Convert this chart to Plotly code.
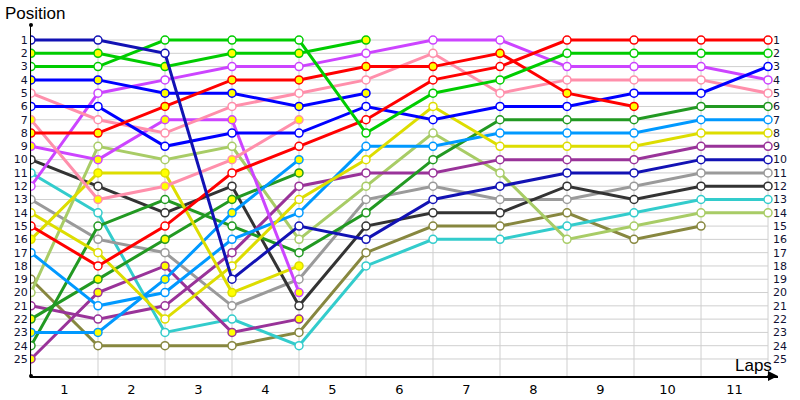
import plotly.graph_objects as go

# Columns: 0 = start grid, 1..11 = laps
columns = list(range(12))
lap_labels = [str(i) for i in range(1, 12)]
positions = list(range(1, 26))

# Positions per driver (shorter list = retired)
navy = [1, 1, 2, 19, 15, 16, 13, 12, 11, 11, 10, 10]
green_a = [2, 2, 3, 2, 2, 1]
green_b = [3, 3, 1, 1, 1, 8, 5, 4, 2, 2, 2, 2]
blue_a = [4, 4, 5, 5, 6, 5]
blue_b = [6, 6, 9, 8, 8, 6, 7, 6, 6, 5, 5, 3]
pink_a = [5, 7, 8, 6, 5, 4, 2, 5, 4, 4, 4, 5]
pink_b = [7, 13, 12, 10, 7]
red_a = [8, 8, 6, 4, 4, 3, 3, 2, 5, 6]
red_b = [15, 18, 15, 11, 9, 7, 4, 3, 1, 1, 1, 1]
magenta_a = [9, 10, 7, 7, 20]
magenta_b = [12, 5, 4, 3, 3, 2, 1, 1, 3, 3, 3, 4]
darkgray = [10, 12, 14, 12, 21, 15, 14, 14, 12, 13, 12, 12]
cyan = [11, 14, 23, 22, 24, 18, 16, 16, 15, 14, 13, 13]
gray = [13, 16, 17, 21, 19, 13, 12, 13, 13, 12, 11, 11]
yellow_a = [14, 17, 22, 18, 13, 10, 6, 9, 9, 9, 8, 8]
yellow_b = [16, 11, 11, 20, 18]
lightblue_a = [17, 21, 20, 16, 14, 9, 9, 8, 8, 8, 7, 7]
lightblue_b = [23, 23, 19, 14, 10]
olive = [19, 24, 24, 24, 23, 17, 15, 15, 14, 16, 15]
lightgreen = [20, 9, 10, 9, 16, 12, 8, 11, 16, 15, 14, 14]
purple_a = [21, 22, 21, 17, 12, 11, 11, 10, 10, 10, 9, 9]
purple_b = [25, 20, 18, 23, 22]
darkgreen_a = [22, 19, 16, 13, 11]
darkgreen_b = [24, 15, 13, 15, 17, 14, 10, 7, 7, 7, 6, 6]

# (data, line colour, marker fill)
drivers = [
    (olive, "#87873f", "white"),
    (cyan, "#33cccc", "white"),
    (gray, "#9a9a9a", "white"),
    (darkgray, "#333333", "white"),
    (lightgreen, "#a8cc66", "white"),
    (purple_b, "#993399", "#ffff00"),
    (purple_a, "#993399", "white"),
    (darkgreen_a, "#229922", "#ffff00"),
    (darkgreen_b, "#229922", "white"),
    (lightblue_a, "#0099ff", "white"),
    (lightblue_b, "#0099ff", "#ffff00"),
    (yellow_a, "#dddd00", "white"),
    (yellow_b, "#dddd00", "#ffff00"),
    (magenta_a, "#cc44ff", "#ffff00"),
    (magenta_b, "#cc44ff", "white"),
    (pink_a, "#ff8fab", "white"),
    (pink_b, "#ff8fab", "#ffff00"),
    (blue_b, "#0000ff", "white"),
    (blue_a, "#0000ff", "#ffff00"),
    (red_b, "#ff0000", "white"),
    (red_a, "#ff0000", "#ffff00"),
    (green_b, "#00cc00", "white"),
    (green_a, "#00cc00", "#ffff00"),
    (navy, "#1212b4", "white"),
]

fig = go.Figure()
for data, col, fill in drivers:
    fig.add_trace(go.Scatter(
        x=columns[:len(data)], y=data, mode="lines+markers",
        line=dict(color=col, width=3),
        marker=dict(size=8, color=fill, line=dict(color=col, width=1.5)),
        showlegend=False, hoverinfo="skip",
    ))

# invisible trace for right axis
fig.add_trace(go.Scatter(x=[None], y=[None], yaxis="y2", showlegend=False))

YTOP, YBOT = -0.13, 26.28
XMAX = 11.149
shapes = []
for p in positions:
    shapes.append(dict(type="line", xref="x", yref="y", x0=0, x1=11, y0=p, y1=p,
                       line=dict(color="#cfcfcf", width=1), layer="below"))
for c in columns:
    shapes.append(dict(type="line", xref="x", yref="y", x0=c, x1=c, y0=1, y1=YBOT,
                       line=dict(color="#cfcfcf", width=1), layer="below"))
# dots at top of y axis and at origin
shapes.append(dict(type="circle", xref="paper", yref="paper", x0=-0.0027, x1=0.0027,
                   y0=1.006, y1=0.994, fillcolor="black", line=dict(width=0)))
shapes.append(dict(type="circle", xref="paper", yref="paper", x0=-0.0027, x1=0.0027,
                   y0=0.006, y1=-0.006, fillcolor="black", line=dict(width=0)))

tickfont = dict(size=11, family="DejaVu Sans", color="#111133")
fig.update_layout(
    width=800, height=400,
    margin=dict(l=31, r=22, t=25, b=24),
    plot_bgcolor="white", paper_bgcolor="white",
    font=dict(family="DejaVu Sans", color="black"),
    xaxis=dict(range=[0, XMAX], showgrid=False, zeroline=False, showline=True,
               linecolor="black", linewidth=2, tickvals=[c + 0.5 for c in columns[:-1]],
               ticktext=lap_labels, ticks="", automargin=False,
               tickfont=dict(size=13, family="DejaVu Sans")),
    yaxis=dict(range=[YBOT, YTOP], showgrid=False, zeroline=False, showline=True,
               linecolor="black", linewidth=1, tickvals=positions,
               ticktext=[str(p) for p in positions], ticks="", automargin=False,
               tickfont=tickfont),
    yaxis2=dict(range=[YBOT, YTOP], overlaying="y", side="right", anchor="free",
                position=(11 / XMAX), showgrid=False, zeroline=False, showline=False,
                tickvals=positions, ticktext=[str(p) for p in positions], ticks="",
                automargin=False, ticklabelstandoff=4, tickfont=tickfont),
    shapes=shapes,
    annotations=[
        dict(text="Position", xref="paper", yref="paper", x=-0.037, y=1.034,
             xanchor="left", yanchor="middle", showarrow=False,
             font=dict(size=17, family="Liberation Sans")),
        dict(text="Laps", xref="paper", yref="paper", x=0.994, y=0.03,
             xanchor="right", yanchor="middle", showarrow=False,
             font=dict(size=17, family="Liberation Sans")),
        dict(text="", xref="paper", yref="paper", x=1.0, y=0.0, ax=-12, ay=0,
             showarrow=True, arrowhead=2, arrowsize=1, arrowwidth=2, arrowcolor="black"),
    ],
)

fig.write_html("out.html", config={"displayModeBar": False},
               post_script="document.body.style.margin='0px';document.body.style.overflow='hidden';")
